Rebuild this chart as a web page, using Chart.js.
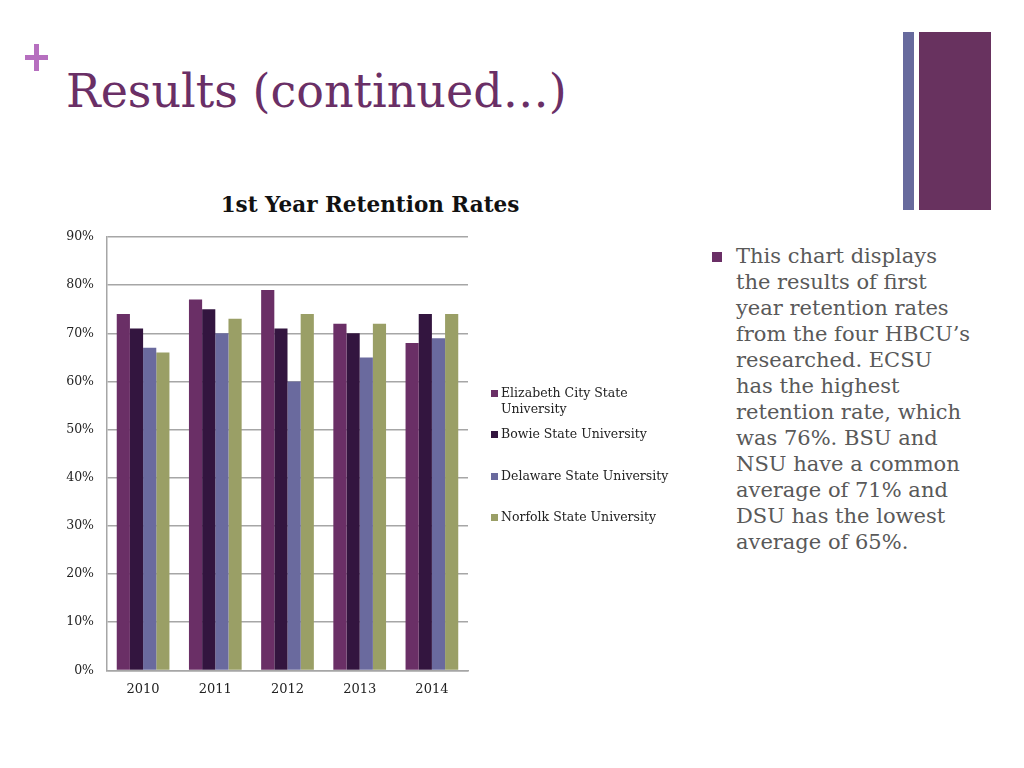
<!DOCTYPE html>
<html lang="en">
<head>
    <meta charset="UTF-8">
    <title>Results (continued…)</title>
    <script src="https://cdn.jsdelivr.net/npm/chart.js"></script>
    <style>
        body {
            margin: 0;
            width: 1024px;
            height: 768px;
            background: #fff;
            position: relative;
            overflow: hidden;
            font-family: "DejaVu Serif", serif;
        }

        /* plus mark */
        .plus-h, .plus-v {
            position: absolute;
            background: #b66fbf;
        }
        .plus-h { left: 25px; top: 55px; width: 23px; height: 5px; }
        .plus-v { left: 34px; top: 44px; width: 5px; height: 27px; }

        .slide-title {
            position: absolute;
            left: 66px;
            top: 64px;
            font-size: 46px;
            color: #6a2f66;
            white-space: nowrap;
        }

        /* right decoration */
        .deco-thin { position: absolute; left: 903px; top: 32px; width: 11px; height: 178px; background: #676a9d; }
        .deco-wide { position: absolute; left: 919px; top: 32px; width: 72px; height: 178px; background: #68325f; }

        .chart-title {
            position: absolute;
            left: 170px;
            width: 400px;
            top: 192px;
            text-align: center;
            font-size: 21.5px;
            font-weight: bold;
            color: #111;
            white-space: nowrap;
        }

        .chart-box {
            position: absolute;
            left: 60px;
            top: 185px;
            width: 620px;
            height: 515px;
        }

        .legend {
            position: absolute;
            left: 490px;
            top: 0;
            font-size: 12.5px;
            color: #222;
        }
        .legend div {
            position: absolute;
            left: 0;
            width: 190px;
            padding-left: 11px;
            line-height: 16px;
            white-space: nowrap;
        }
        .legend span {
            position: absolute;
            left: 1px;
            top: 5px;
            width: 7px;
            height: 7px;
        }

        .bullet {
            position: absolute;
            left: 712px;
            top: 252px;
            width: 10px;
            height: 10px;
            background: #6a2f66;
        }
        .notes {
            position: absolute;
            left: 736px;
            top: 243px;
            font-size: 21px;
            line-height: 26px;
            color: #595959;
            white-space: nowrap;
        }
    </style>
</head>
<body>
    <div class="plus-h"></div>
    <div class="plus-v"></div>
    <div class="slide-title">Results (continued…)</div>
    <div class="deco-thin"></div>
    <div class="deco-wide"></div>

    <div class="chart-title">1st Year Retention Rates</div>
    <div class="chart-box">
        <canvas id="retentionChart"></canvas>
    </div>
    <div class="legend" id="legend"></div>

    <div class="bullet"></div>
    <div class="notes">
        This chart displays<br>
        the results of first<br>
        year retention rates<br>
        from the four HBCU’s<br>
        researched. ECSU<br>
        has the highest<br>
        retention rate, which<br>
        was 76%. BSU and<br>
        NSU have a common<br>
        average of 71% and<br>
        DSU has the lowest<br>
        average of 65%.
    </div>

    <script>
        // Data
        const years = ['2010', '2011', '2012', '2013', '2014'];
        const ecsu = [74, 77, 79, 72, 68];
        const bowie = [71, 75, 71, 70, 74];
        const delaware = [67, 70, 60, 65, 69];
        const norfolk = [66, 73, 74, 72, 74];
        const schoolNames = ['Elizabeth City State University', 'Bowie State University', 'Delaware State University', 'Norfolk State University'];
        const yTicks = [0, 10, 20, 30, 40, 50, 60, 70, 80, 90];

        const colors = ['#6a2f66', '#33153f', '#6a6a9e', '#9a9f66'];
        const seriesValues = [ecsu, bowie, delaware, norfolk];

        const ctx = document.getElementById('retentionChart').getContext('2d');
        Chart.defaults.font.family = '"DejaVu Serif", serif';
        Chart.defaults.color = '#222';

        const retentionChart = new Chart(ctx, {
            type: 'bar',
            data: {
                labels: years,
                datasets: schoolNames.map((name, i) => ({
                    label: name,
                    data: seriesValues[i],
                    backgroundColor: colors[i],
                    borderWidth: 0,
                    barPercentage: 1,
                    categoryPercentage: 0.73
                }))
            },
            options: {
                responsive: true,
                maintainAspectRatio: false,
                animation: false,
                layout: { padding: { left: 0, right: 212, top: 52, bottom: 0 } },
                plugins: {
                    legend: { display: false },
                    tooltip: { enabled: false },
                    title: { display: false }
                },
                scales: {
                    x: {
                        grid: { display: false },
                        border: { color: '#a6a6a6', width: 1.5 },
                        ticks: { font: { size: 13 }, padding: 3, color: '#222' }
                    },
                    y: {
                        min: 0,
                        max: 90,
                        afterBuildTicks: (scale) => { scale.ticks = yTicks.map(v => ({ value: v })); },
                        afterFit: (scale) => { scale.width = 47; },
                        grid: { color: '#a6a6a6', lineWidth: 1.5, drawTicks: false },
                        border: { color: '#a6a6a6', width: 1.5 },
                        ticks: { font: { size: 12.5 }, padding: 13, color: '#222', callback: v => v + '%' }
                    }
                }
            }
        });

        // Legend built from the same names / colours
        const legendTops = [385, 426, 468, 509];
        const legend = document.getElementById('legend');
        schoolNames.forEach((name, i) => {
            const item = document.createElement('div');
            item.style.top = legendTops[i] + 'px';
            const text = i === 0 ? 'Elizabeth City State<br>University' : name;
            item.innerHTML = '<span style="background:' + colors[i] + '"></span>' + text;
            legend.appendChild(item);
        });
    </script>
</body>
</html>
